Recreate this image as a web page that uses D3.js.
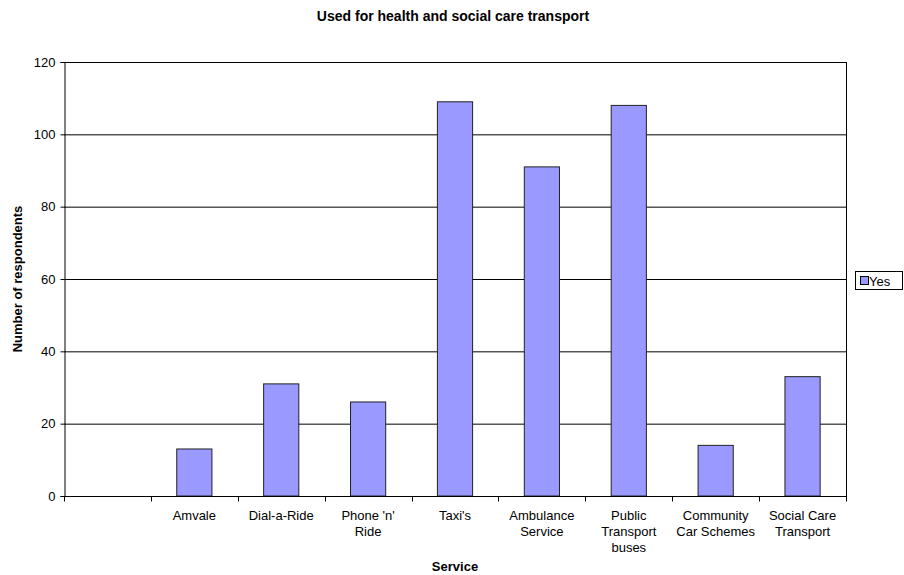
<!DOCTYPE html>
<html>
<head>
<meta charset="utf-8">
<script src="https://cdn.jsdelivr.net/npm/d3@7"></script>
<style>
  body { margin: 0; background: #fff; }
  svg { display: block; font-family: "Liberation Sans", Arial, sans-serif; }
</style>
</head>
<body>
<svg id="chart" width="904" height="575"></svg>
<script>
// Service categories (first slot is left empty); line breaks separate wrapped label lines
const categories = ["", "Amvale", "Dial-a-Ride", "Phone 'n'\nRide", "Taxi's", "Ambulance\nService",
  "Public\nTransport\nbuses", "Community\nCar Schemes", "Social Care\nTransport"];
const yesValues = [null, 13, 31, 26, 109, 91, 108, 14, 33];
const yTicks = [0, 20, 40, 60, 80, 100, 120];
const seriesName = "Yes";

const svg = d3.select("#chart");
const plot = { left: 64, right: 846, top: 62, bottom: 496 };

const x = d3.scaleBand().domain(d3.range(categories.length))
  .range([plot.left, plot.right]).paddingInner(0).paddingOuter(0);
const y = d3.scaleLinear().domain([0, 120]).range([plot.bottom, plot.top]);

// Gridlines
svg.append("g").selectAll("line").data(yTicks.filter(t => t > 0)).join("line")
  .attr("x1", plot.left).attr("x2", plot.right)
  .attr("y1", d => y(d) + 0.5).attr("y2", d => y(d) + 0.5)
  .attr("stroke", "#000").attr("stroke-width", 1);

// Right border of the plot area
svg.append("line").attr("x1", plot.right + 0.5).attr("x2", plot.right + 0.5)
  .attr("y1", plot.top).attr("y2", plot.bottom).attr("stroke", "#000");

// Bars
const barW = x.bandwidth() * 0.405;
svg.append("g").selectAll("rect")
  .data(yesValues.map((v, i) => ({ v, i })).filter(d => d.v != null)).join("rect")
  .attr("x", d => x(d.i) + (x.bandwidth() - barW) / 2)
  .attr("y", d => y(d.v))
  .attr("width", barW)
  .attr("height", d => y(0) - y(d.v))
  .attr("fill", "#9999ff").attr("stroke", "#222").attr("stroke-width", 1);

// Y axis
const yAxis = svg.append("g").attr("transform", `translate(${plot.left + 0.5},0)`)
  .call(d3.axisLeft(y).tickValues(yTicks).tickSize(4).tickPadding(5));
yAxis.selectAll("text").attr("font-size", 13).attr("fill", "#000")
  .attr("font-family", "Liberation Sans, Arial, sans-serif");
yAxis.selectAll("line, path").attr("stroke", "#000");

// X axis: ticks at category boundaries
const xAxisG = svg.append("g").attr("transform", `translate(0,${plot.bottom + 0.5})`);
xAxisG.append("line").attr("x1", plot.left).attr("x2", plot.right + 1)
  .attr("stroke", "#000");
xAxisG.selectAll("line.tick").data(d3.range(categories.length + 1)).join("line")
  .attr("class", "tick")
  .attr("x1", i => Math.round(plot.left + i * x.step()) + 0.5)
  .attr("x2", i => Math.round(plot.left + i * x.step()) + 0.5)
  .attr("y1", 0).attr("y2", 5).attr("stroke", "#000");

const labels = xAxisG.selectAll("text.cat").data(categories).join("text")
  .attr("class", "cat")
  .attr("x", (d, i) => x(i) + x.bandwidth() / 2)
  .attr("y", 23)
  .attr("text-anchor", "middle").attr("font-size", 13).attr("fill", "#000");
labels.each(function(d) {
  const t = d3.select(this);
  d.split("\n").forEach((line, k) => {
    t.append("tspan").attr("x", t.attr("x")).attr("dy", k === 0 ? 0 : 16).text(line);
  });
});

// Title and axis titles
svg.append("text").attr("x", 453).attr("y", 21).attr("text-anchor", "middle")
  .attr("font-size", 14).attr("font-weight", "bold").text("Used for health and social care transport");
svg.append("text").attr("x", 455).attr("y", 571).attr("text-anchor", "middle")
  .attr("font-size", 13).attr("font-weight", "bold").text("Service");
svg.append("text").attr("transform", `translate(22,${(plot.top + plot.bottom) / 2}) rotate(-90)`)
  .attr("text-anchor", "middle").attr("font-size", 13).attr("font-weight", "bold")
  .text("Number of respondents");

// Legend
const lg = svg.append("g").attr("transform", "translate(855,271)");
lg.append("rect").attr("x", 0.5).attr("y", 0.5).attr("width", 47).attr("height", 18)
  .attr("fill", "#fff").attr("stroke", "#000");
lg.append("rect").attr("x", 5.5).attr("y", 5.5).attr("width", 8).attr("height", 8)
  .attr("fill", "#9999ff").attr("stroke", "#000");
lg.append("text").attr("x", 14).attr("y", 14.5).attr("font-size", 13).text(seriesName);
</script>
</body>
</html>
